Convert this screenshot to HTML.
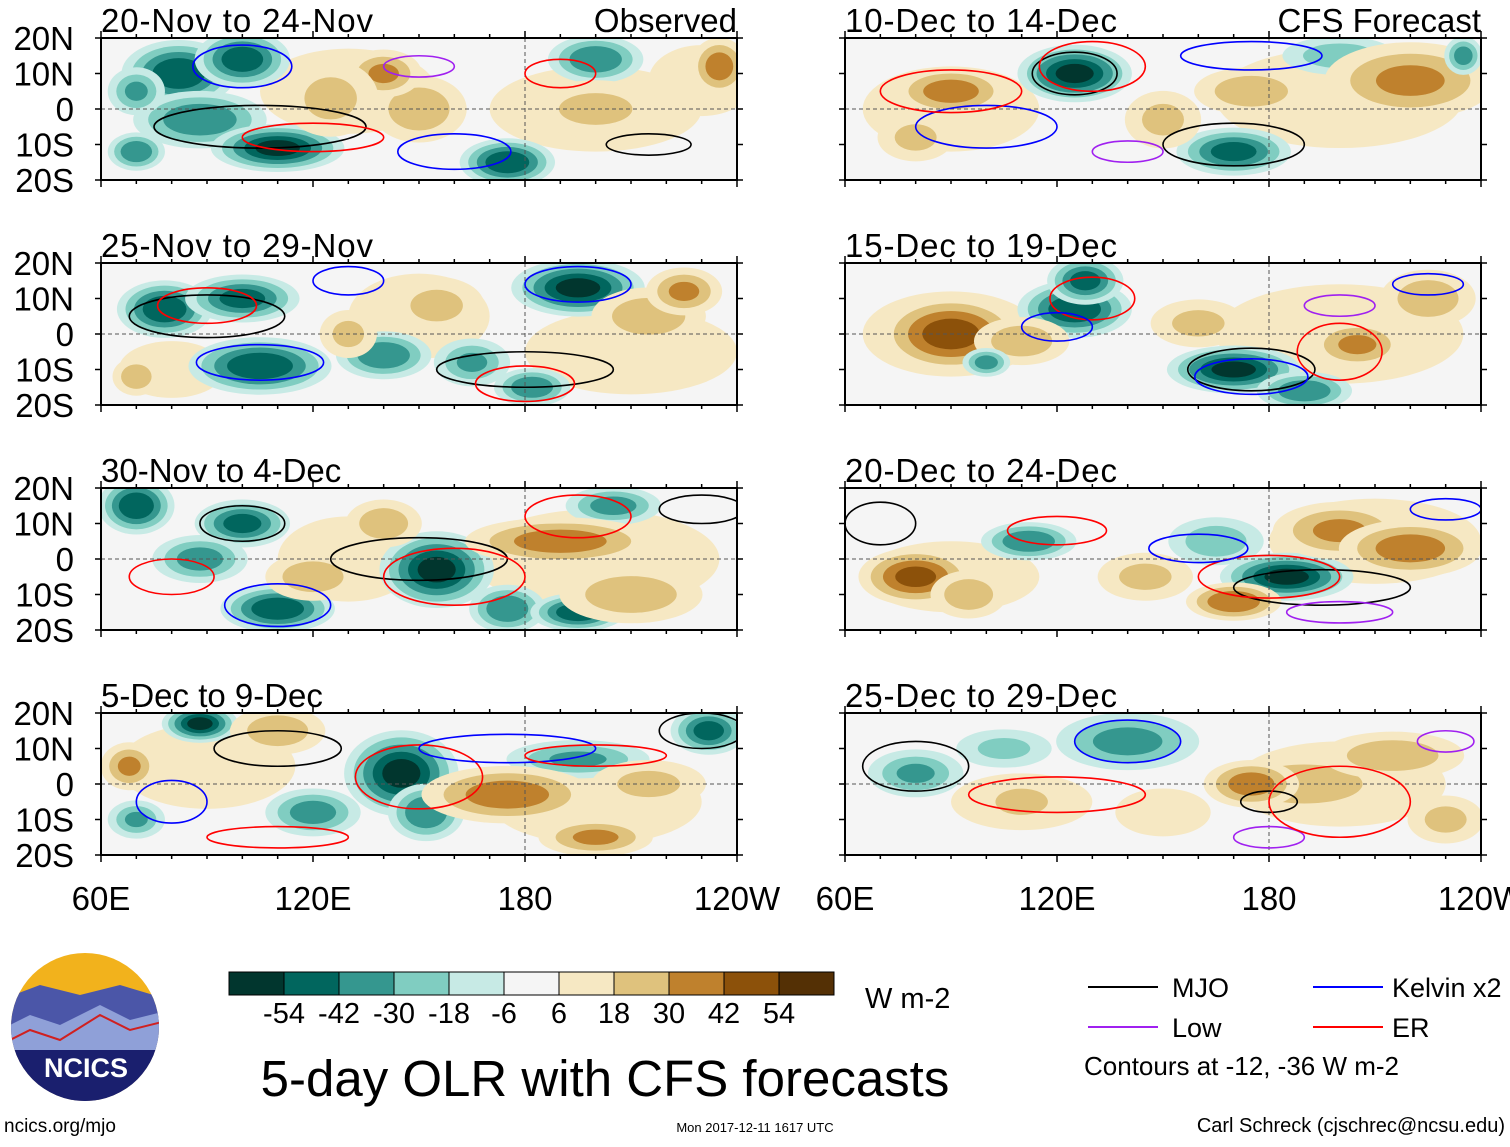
<!DOCTYPE html>
<html><head><meta charset="utf-8">
<style>
body{margin:0;background:#fff;width:1510px;height:1142px;overflow:hidden;font-family:"Liberation Sans",sans-serif}
svg text{font-family:"Liberation Sans",sans-serif}
</style></head>
<body>
<svg id="chart" width="1510" height="1142" viewBox="0 0 1510 1142" xmlns="http://www.w3.org/2000/svg"></svg>
<script>
// ---- data ----
const panelTitles=["20-Nov to 24-Nov","25-Nov to 29-Nov","30-Nov to 4-Dec","5-Dec to 9-Dec","10-Dec to 14-Dec","15-Dec to 19-Dec","20-Dec to 24-Dec","25-Dec to 29-Dec"];
const latTicks=["20N","10N","0","10S","20S"];
const latValues=[20,10,0,-10,-20];
const lonTicks=["60E","120E","180","120W"];
const lonValues=[60,120,180,240];
const levels=[-54,-42,-30,-18,-6,6,18,30,42,54];
const cbColors=["#01362e","#01665e","#35978f","#80cdc1","#c7eae5","#f5f5f5","#f6e8c3","#dfc27d","#bf812d","#8c510a","#543005"];
const cbLabels=["-54","-42","-30","-18","-6","6","18","30","42","54"];
// blobs: [lon, lat, lonRadius, latRadius, peakValue]
const blobs0=[[130,5,25,12,12],[200,0,30,12,12],[230,8,15,10,12],[82,10,12,7,-50],[100,14,10,6,-48],[88,-3,14,6,-40],[110,-11,14,5,-54],[70,-12,6,4,-40],[175,-15,10,5,-50],[200,14,10,5,-40],[235,12,6,6,35],[150,0,10,7,25],[140,10,8,5,30],[200,0,14,6,20],[125,3,10,8,20],[70,5,6,5,-30]];
const blobs1=[[150,5,20,12,12],[210,-5,30,12,12],[80,-10,15,8,12],[78,7,10,6,-50],[100,10,12,5,-45],[105,-9,15,6,-50],[140,-6,10,5,-40],[195,13,14,6,-54],[182,-15,8,4,-40],[165,-8,8,5,-30],[155,8,10,6,20],[215,5,12,6,25],[225,12,8,5,30],[70,-12,5,4,25],[130,0,6,5,20]];
const blobs2=[[200,0,35,14,12],[130,0,20,12,12],[70,15,8,6,-50],[100,10,10,5,-45],[88,0,10,5,-35],[110,-14,12,5,-50],[155,-3,12,8,-54],[175,-14,8,5,-40],[195,-15,10,4,-50],[205,15,10,4,-35],[190,5,20,5,35],[140,10,8,5,25],[120,-5,10,5,25],[210,-10,15,6,25]];
const blobs3=[[200,-5,30,12,12],[90,5,25,12,12],[88,17,8,4,-54],[145,3,12,9,-54],[152,-8,8,6,-40],[120,-8,10,5,-35],[195,7,15,4,-30],[232,15,8,5,-45],[70,-10,6,4,-30],[175,-3,18,6,35],[110,15,10,5,25],[68,5,6,5,30],[200,-15,12,4,30],[215,0,12,5,20]];
const blobs4=[[200,3,35,14,12],[90,0,25,12,12],[125,10,12,6,-54],[170,-12,12,5,-45],[200,15,12,4,-25],[90,5,12,5,35],[220,8,18,8,30],[175,5,12,5,25],[80,-8,8,5,20],[235,15,4,4,-35],[150,-3,8,6,20]];
const blobs5=[[200,0,35,14,12],[90,0,25,12,12],[125,7,12,6,-50],[128,15,8,5,-45],[170,-10,14,5,-54],[190,-16,10,4,-40],[90,0,15,8,45],[110,-2,10,5,25],[205,-3,10,5,30],[225,10,10,6,25],[100,-8,5,3,-35],[160,3,10,5,20]];
const blobs6=[[210,5,30,12,12],[90,-5,25,10,12],[112,5,10,4,-40],[185,-5,14,5,-54],[170,-12,10,4,40],[80,-5,12,6,42],[165,5,10,5,-25],[200,8,14,6,30],[220,3,15,6,35],[95,-10,8,5,25],[145,-5,10,5,20]];
const blobs7=[[200,0,30,12,12],[110,-5,20,8,10],[140,12,15,6,-35],[80,3,10,5,-30],[190,0,18,6,28],[175,0,10,5,35],[215,8,15,5,25],[110,-5,10,5,20],[150,-8,10,5,15],[230,-10,8,5,20],[105,10,10,4,-20]];
const panelBlobs=[blobs0,blobs1,blobs2,blobs3,blobs4,blobs5,blobs6,blobs7];
// contours: [lon, lat, lonRadius, latRadius, type]
const contourTypes=["mjo","low","kelvin","er"];
const contourColors=["#000","#a020f0","#0000ff","#ff0000"];
const c0=[[105,-5,30,6,0],[215,-10,12,3,0],[100,12,14,6,2],[160,-12,16,5,2],[120,-8,20,4,3],[190,10,10,4,3],[150,12,10,3,1]];
const c1=[[90,5,22,6,0],[180,-10,25,5,0],[90,8,14,5,3],[195,14,15,5,2],[105,-8,18,5,2],[180,-14,14,5,3],[130,15,10,4,2]];
const c2=[[150,0,25,6,0],[100,10,12,5,0],[160,-5,20,8,3],[110,-13,15,6,2],[195,12,15,6,3],[230,14,12,4,0],[80,-5,12,5,3]];
const c3=[[110,10,18,5,0],[150,2,18,9,3],[175,10,25,4,2],[200,8,20,3,3],[110,-15,20,3,3],[230,15,12,5,0],[80,-5,10,6,2]];
const c4=[[125,10,12,6,0],[170,-10,20,6,0],[130,12,15,7,3],[100,-5,20,6,2],[90,5,20,6,3],[175,15,20,4,2],[140,-12,10,3,1]];
const c5=[[175,-10,18,6,0],[130,10,12,6,3],[120,2,10,4,2],[175,-12,16,5,2],[200,-5,12,8,3],[200,8,10,3,1],[225,14,10,3,2]];
const c6=[[195,-8,25,5,0],[70,10,10,6,0],[180,-5,20,6,3],[160,3,14,4,2],[120,8,14,4,3],[200,-15,15,3,1],[230,14,10,3,2]];
const c7=[[180,-5,8,3,0],[80,5,15,7,0],[140,12,15,6,2],[120,-3,25,5,3],[180,-15,10,3,1],[230,12,8,3,1],[200,-5,20,10,3]];
const panelContours=[c0,c1,c2,c3,c4,c5,c6,c7];

// ---- layout ----
const NS="http://www.w3.org/2000/svg";
const svg=document.getElementById('chart');
function mk(tag,attrs,parent){const e=document.createElementNS(NS,tag);for(const k in attrs)e.setAttribute(k,attrs[k]);(parent||svg).appendChild(e);return e;}
const PW=636,PH=142,GROW=1.35;
const panelX=[101,101,101,101,845,845,845,845];
const panelY=[38,263,488,713,38,263,488,713];
function colorFor(v){let i=0;while(i<levels.length&&v>levels[i])i++;return cbColors[i];}

panelTitles.forEach((t,p)=>{
  const x0=panelX[p],y0=panelY[p];
  const xs=lon=>x0+(lon-60)/180*PW;
  const ys=lat=>y0+(20-lat)/40*PH;
  const g=mk('g',{});
  
  
  const cid='clip'+p;
  const cp=mk('clipPath',{id:cid},g);mk('rect',{x:x0,y:y0,width:PW,height:PH},cp);
  const fg=mk('g',{'clip-path':'url(#'+cid+')'},g);
  mk('rect',{x:x0,y:y0,width:PW,height:PH,fill:'#f5f5f5'},fg);
  panelBlobs[p].forEach(b=>{
    const [lon,lat,rl,rt,v]=b;
    const steps=levels.filter(l=>v<0?(l<0&&l>=v):(l>0&&l<=v));
    steps.sort((a,c)=>Math.abs(a)-Math.abs(c));
    const big=Math.abs(v)<=12;
    steps.forEach(l=>{
      const s=1-0.75*(Math.abs(l)-6)/(Math.abs(v)-6+6);
      const gr=big?1:GROW;
      const e=mk('ellipse',{cx:xs(lon),cy:ys(lat),rx:rl*s*gr*PW/180,ry:rt*s*gr*PH/40,fill:colorFor(v<0?l-1:l+1)},fg);
      
      
    });
  });
  mk('line',{x1:x0,x2:x0+PW,y1:ys(0),y2:ys(0),stroke:'#555','stroke-dasharray':'4,3','stroke-width':1},fg);
  mk('line',{x1:xs(180),x2:xs(180),y1:y0,y2:y0+PH,stroke:'#555','stroke-dasharray':'4,3','stroke-width':1},fg);
  panelContours[p].forEach(c=>{
    const e=mk('ellipse',{cx:xs(c[0]),cy:ys(c[1]),rx:c[2]*PW/180,ry:c[3]*PH/40,fill:'none',stroke:contourColors[c[4]],'stroke-width':1.6},fg);
    
    
  });
  mk('rect',{x:x0,y:y0,width:PW,height:PH,fill:'none',stroke:'#000','stroke-width':2},g);
  for(let lon=60;lon<=240;lon+=10){const L=lon%60===0?7:4;
    mk('line',{x1:xs(lon),x2:xs(lon),y1:y0,y2:y0-L,stroke:'#000','stroke-width':1.5},g);
    mk('line',{x1:xs(lon),x2:xs(lon),y1:y0+PH,y2:y0+PH+L,stroke:'#000','stroke-width':1.5},g);}
  latValues.forEach(lat=>{mk('line',{x1:x0,x2:x0-6,y1:ys(lat),y2:ys(lat),stroke:'#000','stroke-width':1.5},g);
    mk('line',{x1:x0+PW,x2:x0+PW+6,y1:ys(lat),y2:ys(lat),stroke:'#000','stroke-width':1.5},g);});
  if(p<4) latTicks.forEach((lt,i)=>{const e=mk('text',{x:74,y:ys(latValues[i])+12,'font-size':33,'text-anchor':'end'},g);e.textContent=lt;
    });
  const tt=mk('text',{x:x0,y:y0-6,'font-size':33,textLength:272},g);tt.textContent=t;
  if(t.length<16) tt.removeAttribute('textLength');
  
  if(p===0||p===4){const r=mk('text',{x:x0+PW,y:y0-6,'font-size':33,'text-anchor':'end'},g);r.textContent=p===0?'Observed':'CFS Forecast';
    }
  if(p===3||p===7) lonTicks.forEach((lt,i)=>{const e=mk('text',{x:xs(lonValues[i]),y:910,'font-size':33,'text-anchor':'middle'},g);e.textContent=lt;
    });
});

// colorbar
const cb=mk('g',{});
cbColors.forEach((c,i)=>{mk('rect',{x:229+i*55,y:972,width:55,height:23,fill:c,stroke:'#000','stroke-width':1},cb);});
cbLabels.forEach((l,i)=>{const e=mk('text',{x:284+i*55,y:1023,'font-size':29,'text-anchor':'middle'},cb);e.textContent=l;});
const u=mk('text',{x:865,y:1008,'font-size':29},cb);u.textContent='W m-2';
const title=mk('text',{x:605,y:1096,'font-size':51,'text-anchor':'middle'});title.textContent='5-day OLR with CFS forecasts';


// legend
const lg=mk('g',{});
[[1088,987,'#000','MJO',1172],[1088,1027,'#a020f0','Low',1172],[1313,987,'#0000ff','Kelvin x2',1392],[1313,1027,'#ff0000','ER',1392]].forEach(a=>{
  mk('line',{x1:a[0],x2:a[0]+70,y1:a[1],y2:a[1],stroke:a[2],'stroke-width':2},lg);
  const t=mk('text',{x:a[4],y:a[1]+10,'font-size':27},lg);t.textContent=a[3];});
const ct=mk('text',{x:1084,y:1075,'font-size':26},lg);ct.textContent='Contours at -12, -36 W m-2';

// logo
const lo=mk('g',{});
mk('clipPath',{id:'lc'},lo).appendChild(mk('circle',{cx:85,cy:1027,r:74}));
const lgg=mk('g',{'clip-path':'url(#lc)'},lo);
mk('rect',{x:0,y:950,width:170,height:160,fill:'#f2b21c'},lgg);
mk('path',{d:'M0 1000 L40 985 L80 995 L120 985 L170 1000 L170 1110 L0 1110Z',fill:'#4b56a8'},lgg);
mk('path',{d:'M0 1030 L30 1015 L60 1025 L100 1005 L130 1020 L170 1010 L170 1050 L0 1050Z',fill:'#8fa0d8'},lgg);
mk('path',{d:'M0 1045 L30 1030 L60 1040 L100 1015 L130 1030 L170 1020',fill:'none',stroke:'#d02020','stroke-width':2},lgg);
mk('rect',{x:0,y:1050,width:170,height:60,fill:'#1a1f6e'},lgg);
const lt=mk('text',{x:86,y:1077,'font-size':27,'font-weight':'bold',fill:'#fff','text-anchor':'middle'},lo);lt.textContent='NCICS';
const f1=mk('text',{x:4,y:1132,'font-size':19});f1.textContent='ncics.org/mjo';

const f2=mk('text',{x:755,y:1132,'font-size':13,'text-anchor':'middle'});f2.textContent='Mon 2017-12-11 1617 UTC';

const f3=mk('text',{x:1505,y:1132,'font-size':20,'text-anchor':'end'});f3.textContent='Carl Schreck (cjschrec@ncsu.edu)';

</script>
</body></html>
